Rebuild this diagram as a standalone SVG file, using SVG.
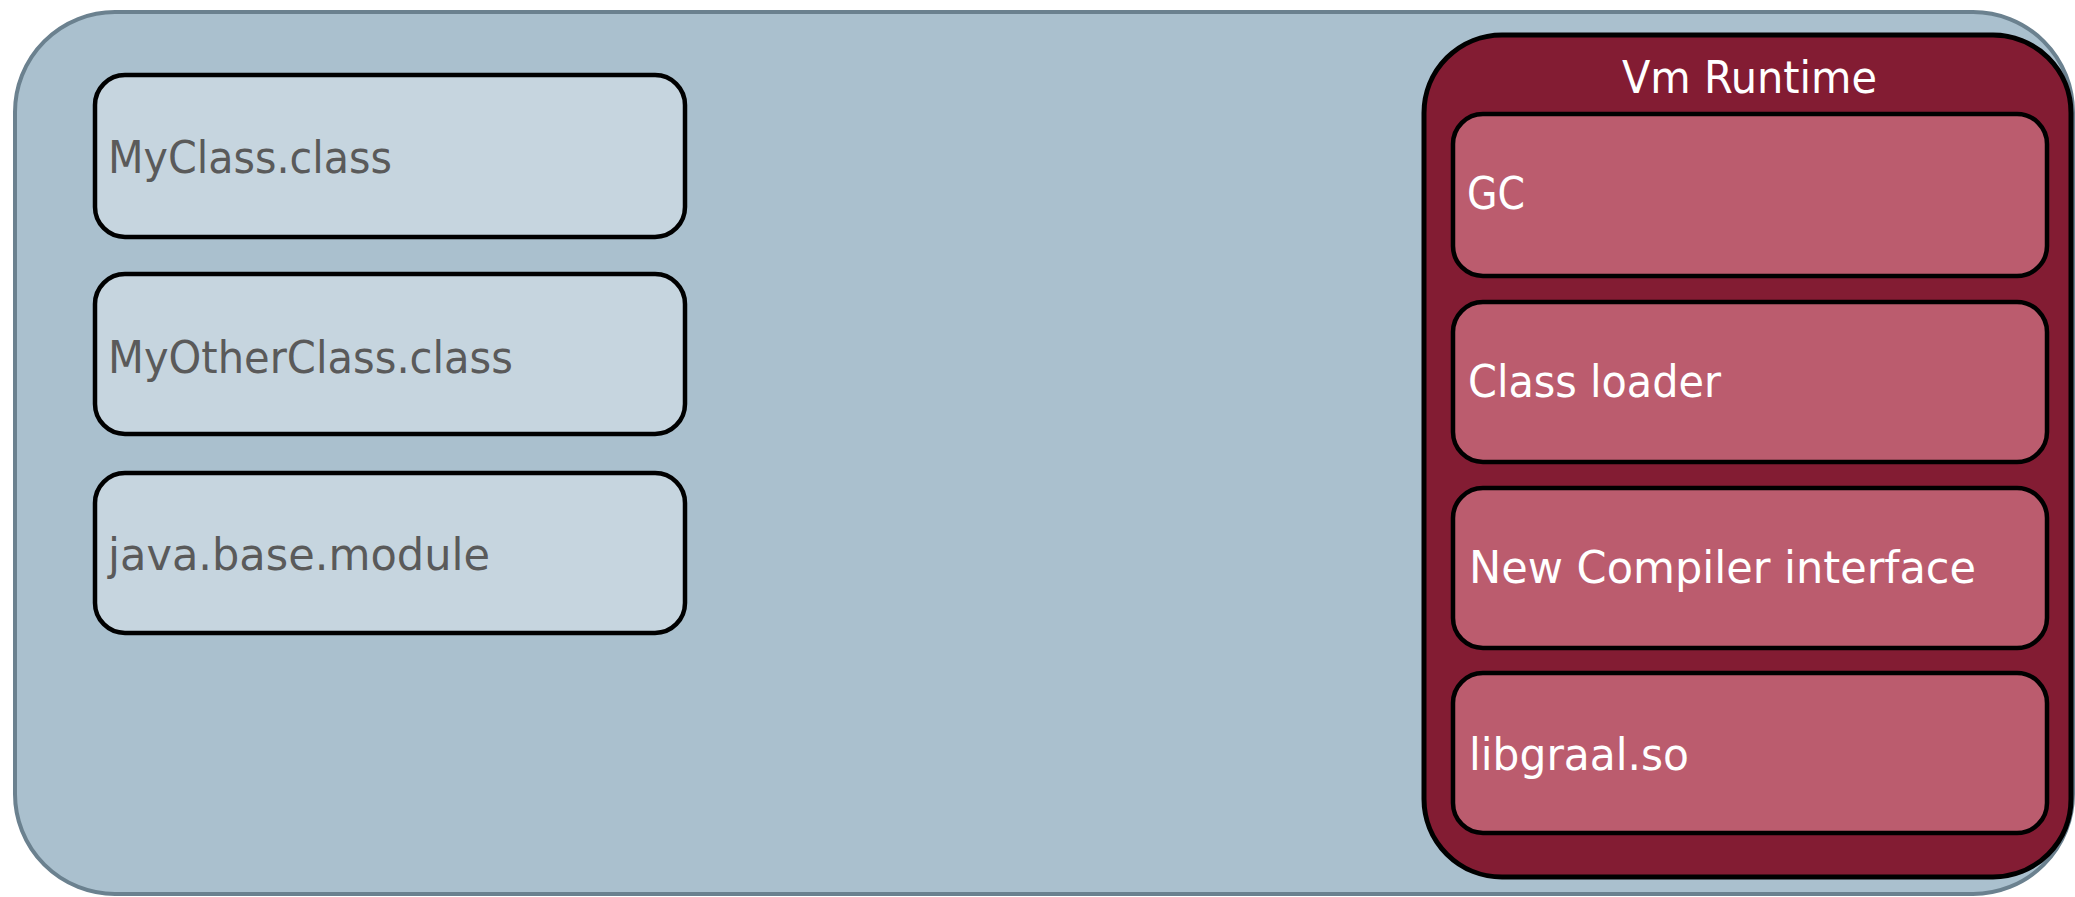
<svg xmlns="http://www.w3.org/2000/svg" width="2075" height="897" viewBox="0 0 2075 897">
<style>
.outer{fill:#aac0ce;stroke:#6b818f;stroke-width:4}
.file{fill:#c6d5df;stroke:#000;stroke-width:4.5}
.vm{fill:#831c33;stroke:#000;stroke-width:5}
.comp{fill:#bb5c6e;stroke:#000;stroke-width:4.5}
text{font-family:"DejaVu Sans Condensed","DejaVu Sans",Lato,sans-serif;font-stretch:condensed;font-size:45px}
.ft{fill:#5a5a5a}
.ct{fill:#ffffff}
</style>
<g id="container">
<rect class="outer" x="15" y="12" width="2058" height="882" rx="100" ry="100"/>
</g>
<g id="myclass">
<rect class="file" x="95" y="75" width="590" height="162" rx="30" ry="30"/>
<text class="ft" x="108" y="173" textLength="284" lengthAdjust="spacingAndGlyphs">MyClass.class</text>
</g>
<g id="myotherclass">
<rect class="file" x="95" y="274" width="590" height="160" rx="30" ry="30"/>
<text class="ft" x="108" y="373" textLength="405" lengthAdjust="spacingAndGlyphs">MyOtherClass.class</text>
</g>
<g id="javabase">
<rect class="file" x="95" y="473" width="590" height="160" rx="30" ry="30"/>
<text class="ft" x="108" y="570" textLength="382" lengthAdjust="spacingAndGlyphs">java.base.module</text>
</g>
<g id="vmruntime">
<rect class="vm" x="1424" y="35" width="647" height="842" rx="78" ry="78"/>
<text class="ct" x="1622" y="93" textLength="255" lengthAdjust="spacingAndGlyphs">Vm Runtime</text>
</g>
<g id="gc">
<rect class="comp" x="1453" y="114" width="594" height="162" rx="30" ry="30"/>
<text class="ct" x="1467" y="209" textLength="58" lengthAdjust="spacingAndGlyphs">GC</text>
</g>
<g id="classloader">
<rect class="comp" x="1453" y="302" width="594" height="160" rx="30" ry="30"/>
<text class="ct" x="1468" y="397" textLength="253" lengthAdjust="spacingAndGlyphs">Class loader</text>
</g>
<g id="compiler">
<rect class="comp" x="1453" y="488" width="594" height="160" rx="30" ry="30"/>
<text class="ct" x="1469" y="583" textLength="507" lengthAdjust="spacingAndGlyphs">New Compiler interface</text>
</g>
<g id="libgraal">
<rect class="comp" x="1453" y="673" width="594" height="160" rx="30" ry="30"/>
<text class="ct" x="1469" y="770" textLength="220" lengthAdjust="spacingAndGlyphs">libgraal.so</text>
</g>
<g id="connectors"/>
</svg>
